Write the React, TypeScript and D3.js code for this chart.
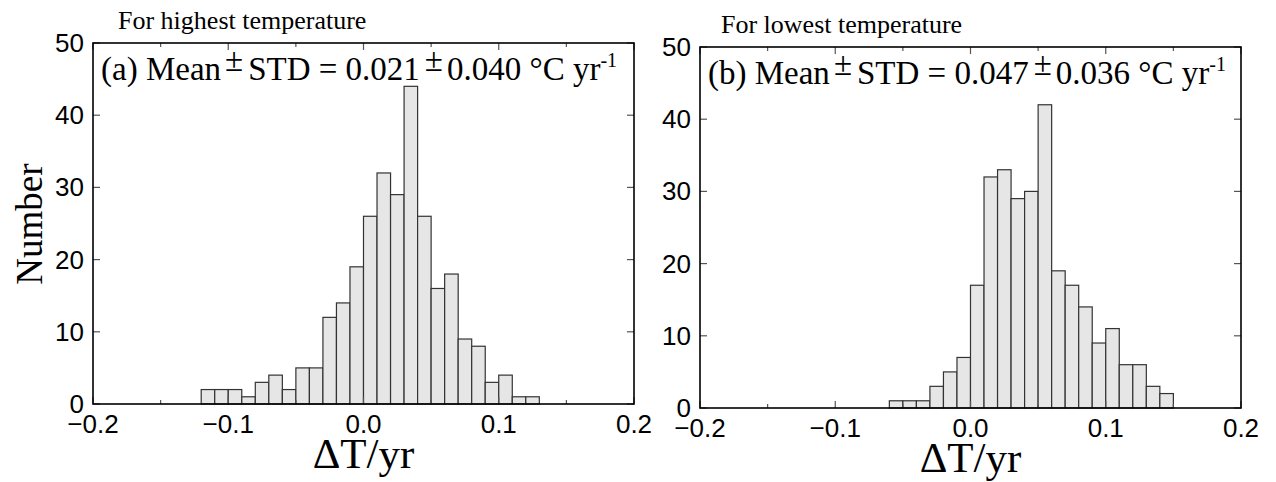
import React from "react";
import * as d3 from "d3";

// histogram counts, bins of 0.01 degC/yr
const binStartsHighest = [
  -0.12, -0.11, -0.1, -0.09, -0.08, -0.07, -0.06, -0.05, -0.04, -0.03, -0.02, -0.01, 0.0,
  0.01, 0.02, 0.03, 0.04, 0.05, 0.06, 0.07, 0.08, 0.09, 0.1, 0.11, 0.12,
];
const countsHighest = [2, 2, 2, 1, 3, 4, 2, 5, 5, 12, 14, 19, 26, 32, 29, 44, 26, 16, 18, 9, 8, 3, 4, 1, 1];

const binStartsLowest = [
  -0.06, -0.05, -0.04, -0.03, -0.02, -0.01, 0.0, 0.01, 0.02, 0.03, 0.04, 0.05, 0.06, 0.07,
  0.08, 0.09, 0.1, 0.11, 0.12, 0.13, 0.14,
];
const countsLowest = [1, 1, 1, 3, 5, 7, 17, 32, 33, 29, 30, 42, 19, 17, 14, 9, 11, 6, 6, 3, 2];

const binWidth = 0.01;
const xDomain = [-0.2, 0.2];
const yDomain = [0, 50];
const yTicks = [0, 10, 20, 30, 40, 50];

const SANS = "'Liberation Sans', Arial, sans-serif";
const SERIF = "'Liberation Serif', 'Times New Roman', serif";

type PanelProps = {
  left: number;
  top: number;
  width: number;
  height: number;
  starts: number[];
  counts: number[];
  title: string;
  titleDx: number;
  tag: string;
  mean: string;
  std: string;
};

const isMajor = (t: number) => Math.abs(Math.round(t * 10) - t * 10) < 1e-6;

const Panel = (props: PanelProps) => {
  const { left, top, width, height } = props;
  const x = d3.scaleLinear().domain(xDomain).range([left, left + width]);
  const y = d3.scaleLinear().domain(yDomain).range([top + height, top]);
  const fmt = d3.format(".1f");
  const xTicks = x.ticks(8);
  const bottom = top + height;
  const right = left + width;

  return (
    <g>
      {props.starts.map((s, i) => (
        <rect
          key={i}
          x={x(s)}
          y={y(props.counts[i])}
          width={x(s + binWidth) - x(s)}
          height={y(0) - y(props.counts[i])}
          fill="#e6e6e6"
          stroke="#333"
          strokeWidth={1.2}
        />
      ))}

      {/* ticks point inward on all four sides */}
      {xTicks.map((t, i) => {
        const len = isMajor(t) ? 7 : 4;
        return (
          <g key={"xt" + i} stroke="#555" strokeWidth={1.2}>
            <line x1={x(t)} x2={x(t)} y1={bottom} y2={bottom - len} />
            <line x1={x(t)} x2={x(t)} y1={top} y2={top + len} />
          </g>
        );
      })}
      {yTicks.map((t, i) => (
        <g key={"yt" + i} stroke="#555" strokeWidth={1.2}>
          <line x1={left} x2={left + 7} y1={y(t)} y2={y(t)} />
          <line x1={right} x2={right - 7} y1={y(t)} y2={y(t)} />
        </g>
      ))}

      <rect x={left} y={top} width={width} height={height} fill="none" stroke="#000" strokeWidth={1.6} />

      {xTicks.filter(isMajor).map((t, i) => (
        <text key={"xl" + i} x={x(t)} y={bottom + 29} textAnchor="middle" fontFamily={SANS} fontSize={26}>
          {fmt(t)}
        </text>
      ))}
      {yTicks.map((t, i) => (
        <text key={"yl" + i} x={left - 9} y={y(t) + 9} textAnchor="end" fontFamily={SANS} fontSize={26}>
          {t}
        </text>
      ))}

      <text x={left + props.titleDx} y={top - 14} fontFamily={SERIF} fontSize={26}>
        {props.title}
      </text>
      <text x={left + 8} y={top + 37} fontFamily={SERIF} fontSize={33}>
        {props.tag} Mean
        <tspan dx={4} dy={-9}>±</tspan>
        <tspan dx={5} dy={9}>STD = {props.mean}</tspan>
        <tspan dx={5} dy={-9}>±</tspan>
        <tspan dx={4} dy={9}>{props.std} °C yr</tspan>
        <tspan fontSize={20} dy={-13}>-1</tspan>
      </text>

      <text x={(left + right) / 2} y={bottom + 64} textAnchor="middle" fontFamily={SERIF} fontSize={43}>
        ΔT/yr
      </text>
    </g>
  );
};

export default function App() {
  return (
    <svg
      width={1276}
      height={482}
      style={{ position: "absolute", left: 0, top: 0, background: "#fff" }}
    >
      <text
        transform="translate(42,224) rotate(-90)"
        textAnchor="middle"
        fontFamily={SERIF}
        fontSize={37}
      >
        Number
      </text>
      <Panel
        left={93}
        top={43}
        width={541}
        height={361}
        starts={binStartsHighest}
        counts={countsHighest}
        title="For highest temperature"
        titleDx={25}
        tag="(a)"
        mean="0.021"
        std="0.040"
      />
      <Panel
        left={700}
        top={47}
        width={541}
        height={361}
        starts={binStartsLowest}
        counts={countsLowest}
        title="For lowest temperature"
        titleDx={21}
        tag="(b)"
        mean="0.047"
        std="0.036"
      />
    </svg>
  );
}
